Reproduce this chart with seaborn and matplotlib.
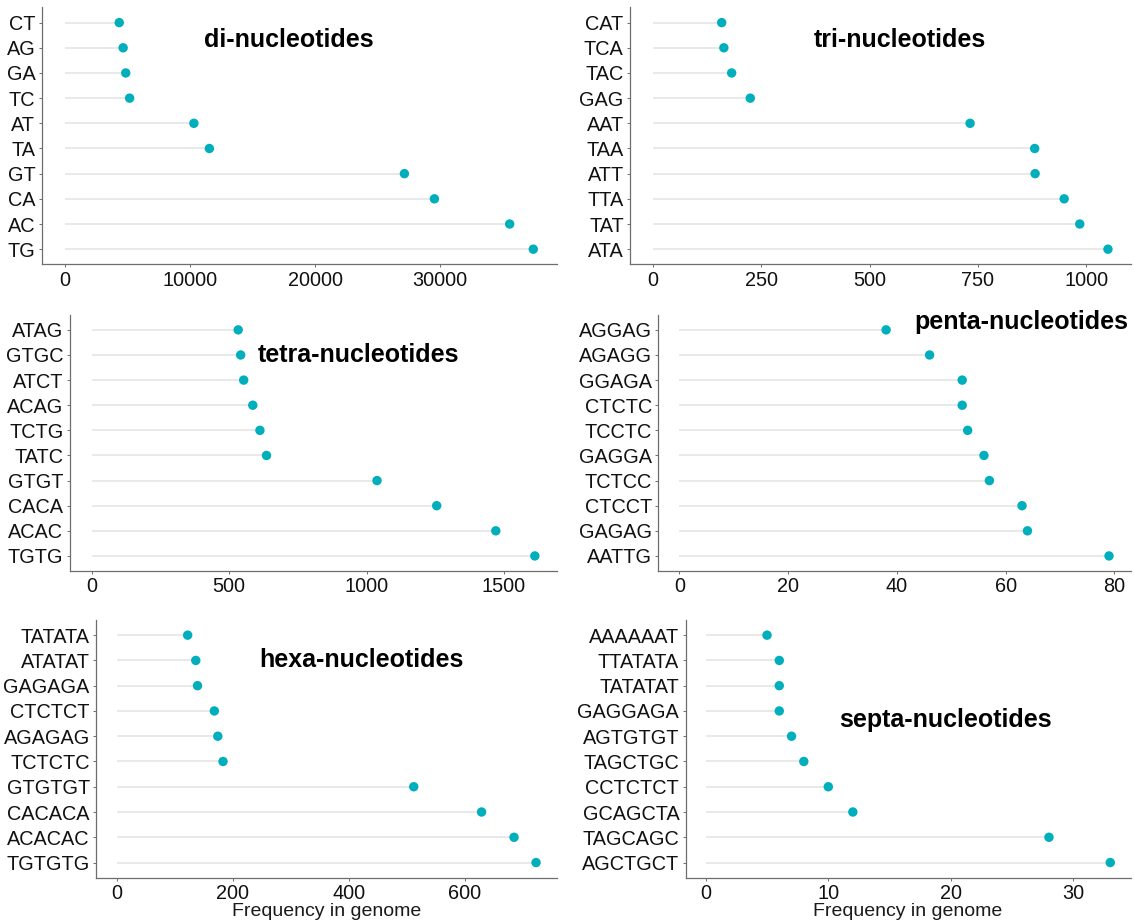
import matplotlib
matplotlib.use("Agg")
import matplotlib.pyplot as plt
import seaborn as sns
import pandas as pd

sns.set_theme(style="white")
plt.rcParams["font.family"] = ["Liberation Sans", "DejaVu Sans"]

# ---- data (top-to-bottom order as displayed) ----
di_labels = ["CT", "AG", "GA", "TC", "AT", "TA", "GT", "CA", "AC", "TG"]
di_values = [4330, 4640, 4850, 5160, 10300, 11540, 27140, 29540, 35560, 37450]

tri_labels = ["CAT", "TCA", "TAC", "GAG", "AAT", "TAA", "ATT", "TTA", "TAT", "ATA"]
tri_values = [159, 164, 182, 225, 732, 881, 882, 949, 985, 1050]

tetra_labels = ["ATAG", "GTGC", "ATCT", "ACAG", "TCTG", "TATC", "GTGT", "CACA", "ACAC", "TGTG"]
tetra_values = [533, 542, 553, 586, 612, 636, 1038, 1255, 1470, 1612]

penta_labels = ["AGGAG", "AGAGG", "GGAGA", "CTCTC", "TCCTC", "GAGGA", "TCTCC", "CTCCT", "GAGAG", "AATTG"]
penta_values = [38, 46, 52, 52, 53, 56, 57, 63, 64, 79]

hexa_labels = ["TATATA", "ATATAT", "GAGAGA", "CTCTCT", "AGAGAG", "TCTCTC", "GTGTGT", "CACACA", "ACACAC", "TGTGTG"]
hexa_values = [122, 136, 139, 168, 174, 183, 512, 629, 685, 723]

septa_labels = ["AAAAAAT", "TTATATA", "TATATAT", "GAGGAGA", "AGTGTGT", "TAGCTGC", "CCTCTCT", "GCAGCTA", "TAGCAGC", "AGCTGCT"]
septa_values = [5, 6, 6, 6, 7, 8, 10, 12, 28, 33]

titles = ["di-nucleotides", "tri-nucleotides", "tetra-nucleotides",
          "penta-nucleotides", "hexa-nucleotides", "septa-nucleotides"]
x_ticks = [[0, 10000, 20000, 30000], [0, 250, 500, 750, 1000], [0, 500, 1000, 1500],
           [0, 20, 40, 60, 80], [0, 200, 400, 600], [0, 10, 20, 30]]

# ---- layout (pixel boxes: left, right, top, bottom) ----
W, H = 1134, 922
boxes = [(41.7, 556.7, 7.5, 264.3), (630, 1130.7, 7.5, 264.3),
         (69.5, 557, 314.8, 571), (658, 1130.5, 314.8, 571),
         (96, 557, 620, 877.7), (685.5, 1130.5, 620, 877.7)]
title_pos = [(0.48, 0.873), (0.539, 0.873), (0.592, 0.843),
             (0.769, 0.972), (0.575, 0.845), (0.584, 0.612)]

panels = [(di_labels, di_values), (tri_labels, tri_values), (tetra_labels, tetra_values),
          (penta_labels, penta_values), (hexa_labels, hexa_values), (septa_labels, septa_values)]

fig = plt.figure(figsize=(W / 100, H / 100), dpi=100)
fig.patch.set_facecolor("white")

POINT = "#00AFBB"
SEG = "#E3E3E3"
AX = "#6E6E6E"

for i, ((labs, vals), (l, r, t, b)) in enumerate(zip(panels, boxes)):
    ax = fig.add_axes([l / W, 1 - b / H, (r - l) / W, (b - t) / H])
    df = pd.DataFrame({"motif": labs, "freq": vals})
    ax.hlines(y=df["motif"], xmin=0, xmax=df["freq"], color=SEG, lw=1.1, zorder=1)
    sns.scatterplot(data=df, x="freq", y="motif", ax=ax, color=POINT, s=46,
                    edgecolor="none", zorder=3, legend=False)
    vmax = max(vals)
    ax.set_xlim(-0.05 * vmax, 1.05 * vmax)
    ax.set_ylim(len(labs) - 1 + 0.6, -0.6)
    ax.set_xticks(x_ticks[i])
    ax.set_xticklabels([str(v) for v in x_ticks[i]])
    ax.set_ylabel("")
    if i >= 4:
        ax.set_xlabel("Frequency in genome", fontsize=14, color="#1a1a1a", labelpad=0)
    else:
        ax.set_xlabel("")
    for s in ["top", "right"]:
        ax.spines[s].set_visible(False)
    for s in ["left", "bottom"]:
        ax.spines[s].set_color(AX)
        ax.spines[s].set_linewidth(0.9)
    ax.tick_params(axis="both", which="both", length=2.5, width=0.7, color=AX,
                   labelsize=14.3, labelcolor="#111111", pad=2, bottom=True, left=True)
    ax.grid(False)
    ax.set_facecolor("white")
    ax.text(title_pos[i][0], title_pos[i][1], titles[i], transform=ax.transAxes,
            ha="center", va="center", fontsize=18, fontweight="bold", color="black")

fig.savefig("out.png", dpi=100, facecolor="white")
